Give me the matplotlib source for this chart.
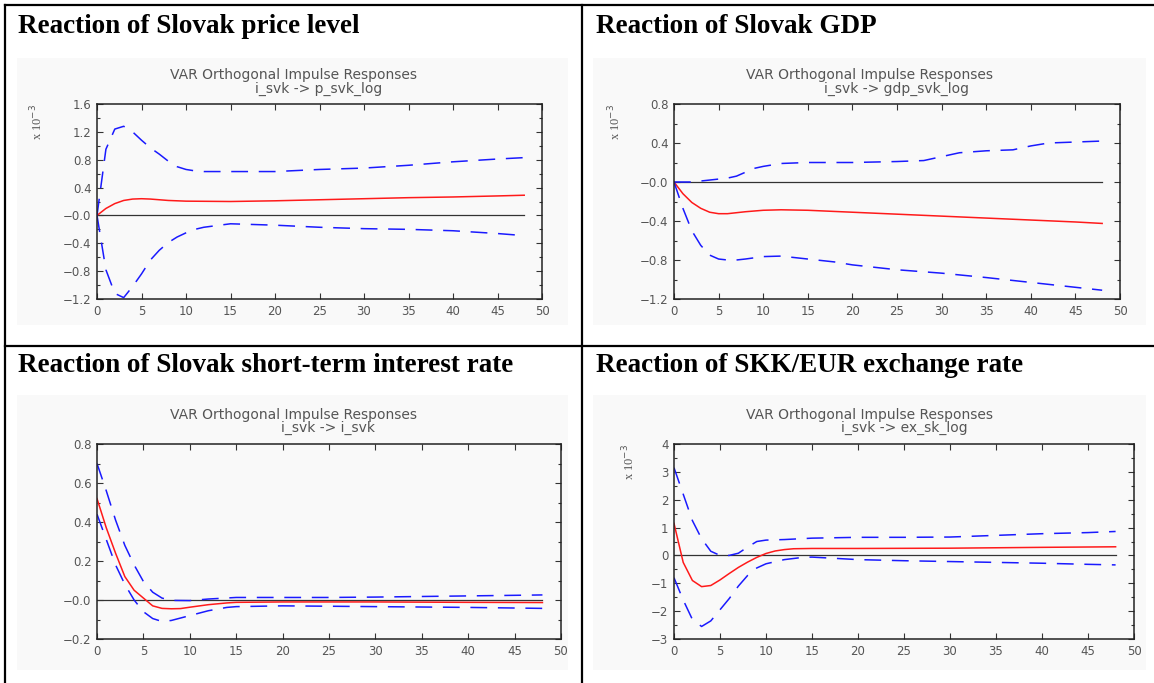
import matplotlib
matplotlib.use("Agg")
import matplotlib.pyplot as plt
from matplotlib.lines import Line2D
from matplotlib.patches import Rectangle

W, H = 1154, 683

# ---- values (panels 1, 2 and 4 are x 10^-3) ----
# Reaction of Slovak price level
price_t_red = [0, 1, 2, 3, 4, 5, 6, 7, 8, 10, 15, 20, 25, 30, 35, 40, 45, 48]
price_red = [0, 0.10, 0.17, 0.215, 0.235, 0.24, 0.235, 0.225, 0.215, 0.205,
             0.20, 0.21, 0.225, 0.24, 0.255, 0.265, 0.28, 0.29]
price_t_band = [0, 1, 2, 3, 4, 5, 6, 7, 8, 9, 10, 11, 12, 15, 20, 25, 30, 35, 40, 45, 48]
price_hi = [0, 0.95, 1.24, 1.28, 1.20, 1.08, 0.97, 0.88, 0.78, 0.70, 0.66, 0.64,
            0.63, 0.63, 0.63, 0.66, 0.68, 0.72, 0.77, 0.81, 0.83]
price_lo = [0, -0.78, -1.12, -1.18, -1.02, -0.84, -0.64, -0.50, -0.39, -0.31, -0.25,
            -0.20, -0.17, -0.12, -0.14, -0.17, -0.19, -0.20, -0.22, -0.26, -0.29]

# Reaction of Slovak GDP
gdp_t_red = [0, 1, 2, 3, 4, 5, 6, 7, 8, 10, 12, 15, 20, 25, 30, 35, 40, 45, 48]
gdp_red = [0, -0.12, -0.21, -0.27, -0.31, -0.325, -0.325, -0.315, -0.305, -0.29,
           -0.285, -0.29, -0.31, -0.33, -0.35, -0.37, -0.39, -0.41, -0.425]
gdp_t_hi = [0, 2, 4, 6, 7, 8, 9, 10, 12, 15, 20, 25, 28, 30, 32, 35, 38, 40, 42, 45, 48]
gdp_hi = [0, 0.0, 0.02, 0.04, 0.06, 0.10, 0.14, 0.16, 0.19, 0.20, 0.20, 0.21,
          0.22, 0.26, 0.30, 0.32, 0.33, 0.37, 0.40, 0.41, 0.42]
gdp_t_lo = [0, 1, 2, 3, 4, 5, 6, 7, 8, 10, 12, 15, 18, 20, 25, 30, 35, 40, 45, 48]
gdp_lo = [0, -0.27, -0.50, -0.65, -0.75, -0.79, -0.80, -0.80, -0.79, -0.765, -0.76,
          -0.79, -0.82, -0.85, -0.90, -0.935, -0.98, -1.03, -1.08, -1.11]

# Reaction of Slovak short-term interest rate
rate_t_red = [0, 1, 2, 3, 4, 5, 6, 7, 8, 9, 10, 12, 14, 15, 20, 30, 40, 48]
rate_red = [0.52, 0.37, 0.24, 0.12, 0.05, 0.01, -0.03, -0.043, -0.045, -0.044,
            -0.037, -0.024, -0.015, -0.012, -0.010, -0.010, -0.012, -0.013]
rate_t_hi = [0, 1, 2, 3, 4, 5, 6, 7, 8, 10, 12, 15, 20, 25, 30, 35, 40, 45, 48]
rate_hi = [0.70, 0.56, 0.41, 0.28, 0.18, 0.095, 0.04, 0.01, -0.002, -0.003, 0.005,
           0.013, 0.013, 0.013, 0.015, 0.018, 0.021, 0.024, 0.026]
rate_t_lo = [0, 1, 2, 3, 4, 5, 6, 7, 8, 10, 12, 14, 15, 20, 30, 40, 48]
rate_lo = [0.44, 0.31, 0.18, 0.08, 0.0, -0.06, -0.095, -0.11, -0.105, -0.08, -0.055,
           -0.038, -0.034, -0.030, -0.034, -0.038, -0.043]

# Reaction of SKK/EUR exchange rate
fx_t_red = [0, 1, 2, 3, 4, 5, 6, 7, 8, 9, 10, 11, 12, 13, 15, 20, 30, 40, 48]
fx_red = [1.15, -0.25, -0.90, -1.12, -1.08, -0.88, -0.65, -0.43, -0.24, -0.07, 0.07,
          0.16, 0.21, 0.24, 0.25, 0.25, 0.26, 0.29, 0.31]
fx_t_hi = [0, 1, 2, 3, 4, 5, 6, 7, 8, 9, 10, 12, 15, 20, 25, 30, 35, 40, 45, 48]
fx_hi = [3.15, 2.20, 1.25, 0.60, 0.15, 0.0, 0.0, 0.08, 0.30, 0.50, 0.55, 0.57, 0.62,
         0.65, 0.65, 0.66, 0.72, 0.78, 0.82, 0.86]
fx_t_lo = [0, 1, 2, 3, 4, 5, 6, 7, 8, 9, 10, 12, 14, 15, 20, 25, 30, 35, 40, 45, 48]
fx_lo = [-0.80, -1.60, -2.30, -2.55, -2.35, -1.95, -1.55, -1.10, -0.72, -0.45, -0.30,
         -0.15, -0.07, -0.06, -0.15, -0.19, -0.22, -0.25, -0.28, -0.32, -0.34]

titles = ["Reaction of Slovak price level", "Reaction of Slovak GDP",
          "Reaction of Slovak short-term interest rate", "Reaction of SKK/EUR exchange rate"]
subtitles = ["i_svk -> p_svk_log", "i_svk -> gdp_svk_log",
             "i_svk -> i_svk", "i_svk -> ex_sk_log"]
yticks = [[1.6, 1.2, 0.8, 0.4, 0.0, -0.4, -0.8, -1.2],
          [0.8, 0.4, 0.0, -0.4, -0.8, -1.2],
          [0.8, 0.6, 0.4, 0.2, 0.0, -0.2],
          [4, 3, 2, 1, 0, -1, -2, -3]]
ylabels = [["1.6", "1.2", "0.8", "0.4", "\u22120.0", "\u22120.4", "\u22120.8", "\u22121.2"],
           ["0.8", "0.4", "\u22120.0", "\u22120.4", "\u22120.8", "\u22121.2"],
           ["0.8", "0.6", "0.4", "0.2", "\u22120.0", "\u22120.2"],
           ["4", "3", "2", "1", "0", "\u22121", "\u22122", "\u22123"]]
xticks = [0, 5, 10, 15, 20, 25, 30, 35, 40, 45, 50]

series = [
    (price_t_red, price_red, price_t_band, price_hi, price_t_band, price_lo),
    (gdp_t_red, gdp_red, gdp_t_hi, gdp_hi, gdp_t_lo, gdp_lo),
    (rate_t_red, rate_red, rate_t_hi, rate_hi, rate_t_lo, rate_lo),
    (fx_t_red, fx_red, fx_t_hi, fx_hi, fx_t_lo, fx_lo),
]

# layout in pixels (left, top, right, bottom)
axes_px = [(97, 104, 542, 299), (674, 104, 1120, 299),
           (97, 444, 561, 639), (674, 444, 1134, 639)]
bg_px = [(17, 58, 568, 325), (593, 58, 1146, 325),
         (17, 395, 568, 670), (593, 395, 1146, 670)]
title_xy = [(18, 33), (596, 33), (18, 372), (596, 372)]
head_xy = [(293, 75, 319, 89), (870, 75, 897, 89),
           (293, 415, 328, 428), (870, 415, 904, 428)]
scale_xy = [(37, 122), (615, 122), None, (629, 462)]

GRAY = "#555555"

fig = plt.figure(figsize=(W / 100, H / 100), dpi=100)
fig.patch.set_facecolor("white")


def fx(x):
    return x / W


def fy(y):
    return 1 - y / H


# faint panel backgrounds of the pasted screenshots
for (l, t, r, b) in bg_px:
    fig.add_artist(Rectangle((fx(l), fy(b)), (r - l) / W, (b - t) / H,
                             transform=fig.transFigure, facecolor="#f9f9f9",
                             edgecolor="none", zorder=0))

for i in range(4):
    l, t, r, b = axes_px[i]
    ax = fig.add_axes([fx(l), fy(b), (r - l) / W, (b - t) / H])
    ax.set_facecolor("none")
    tr, red, th, hi, tl, lo = series[i]
    ax.plot([0, 48], [0, 0], color="#333333", lw=0.9)
    ax.plot(tr, red, color="#ff1a1a", lw=1.1)
    ax.plot(th, hi, color="#1a1aff", lw=1.1, dashes=(11, 7))
    ax.plot(tl, lo, color="#1a1aff", lw=1.1, dashes=(11, 7))

    yt = yticks[i]
    ax.set_xlim(0, 50)
    ax.set_ylim(min(yt), max(yt))
    ax.set_xticks(xticks)
    ax.set_xticklabels([str(v) for v in xticks])
    ax.set_yticks(yt)
    ax.set_yticklabels(ylabels[i])
    step = yt[0] - yt[1]
    ax.set_yticks([v - step / 2 for v in yt[:-1]], minor=True)
    ax.tick_params(axis="both", direction="in", top=True, right=True,
                   length=4, width=0.8, color="#333333",
                   labelsize=8.5, labelcolor=GRAY, pad=4)
    ax.tick_params(axis="y", which="minor", direction="in", right=True,
                   length=2.5, width=0.8, color="#333333")
    for s in ax.spines.values():
        s.set_linewidth(1.1)
        s.set_color("#222222")

    tx, ty = title_xy[i]
    fig.text(fx(tx), fy(ty), titles[i], family="Liberation Serif", weight="bold",
             size=19.5, va="baseline", ha="left")
    h1x, h1y, h2x, h2y = head_xy[i]
    fig.text(fx(h1x), fy(h1y), "VAR Orthogonal Impulse Responses",
             size=10, color=GRAY, ha="center", va="center")
    fig.text(fx(h2x), fy(h2y), subtitles[i],
             size=10, color=GRAY, ha="center", va="center")
    if scale_xy[i] is not None:
        sx, sy = scale_xy[i]
        fig.text(fx(sx), fy(sy), "x 10$^{-3}$", family="Liberation Serif",
                 size=9, color=GRAY, rotation=90, ha="center", va="center")

# table borders around the four cells
border = dict(color="black", lw=1.6, transform=fig.transFigure)
fig.add_artist(Line2D([fx(5), 1], [fy(5), fy(5)], **border))
fig.add_artist(Line2D([fx(5), 1], [fy(346), fy(346)], **border))
fig.add_artist(Line2D([fx(5), fx(5)], [fy(5), 0], **border))
fig.add_artist(Line2D([fx(582), fx(582)], [fy(5), 0], **border))

fig.savefig("out.png", dpi=100)
